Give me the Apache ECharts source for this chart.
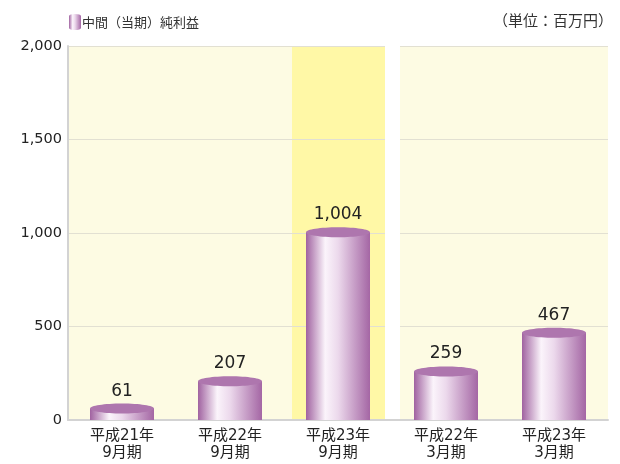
<!DOCTYPE html>
<html>
<head>
<meta charset="utf-8">
<script src="https://cdn.jsdelivr.net/npm/echarts@6/dist/echarts.min.js"></script>
<style>
 html, body { margin: 0; padding: 0; background: #fff; }
 #chart { width: 620px; height: 464px; }
</style>
</head>
<body>
<div id="chart"></div>
<script>
// * Chart data
const categories = ["平成21年\n9月期", "平成22年\n9月期", "平成23年\n9月期", "平成22年\n3月期", "平成23年\n3月期"];
const profits = [61, 207, 1004, 259, 467];
const yTicks = [0, 500, 1000, 1500, 2000];
const seriesName = "中間（当期）純利益";
const unitText = "（単位：百万円）";

const cjkFont = "'Noto Sans CJK JP', 'Noto Sans', sans-serif";
const numFont = "'DejaVu Sans', 'Noto Sans CJK JP', sans-serif";
const textColor = "#222";

// * Cylinder colours
const bodyGradient = {
 type: "linear", x: 0, y: 0, x2: 1, y2: 0,
 colorStops: [
   { offset: 0, color: "#a062a0" },
   { offset: 0.3, color: "#fbf4fb" },
   { offset: 0.5, color: "#ecd9ec" },
   { offset: 1, color: "#a466a4" },
 ],
};
const topColor = "#ae76ae";

/**
* Background bands: pale yellow plot, highlighted current period
*/
function renderBand(params, api) {
 const idx = api.value(0);
 const center = api.coord([idx, 0]);
 const top = api.coord([idx, yTicks[yTicks.length - 1]]);
 const band = api.size([1, 0])[0];
 const children = [
   {
     type: "rect",
     shape: { x: center[0] - band / 2, y: top[1], width: band, height: center[1] - top[1] },
     style: { fill: "#fdfbe3" },
   },
 ];
 if (idx === 2) {
   children.push({
     type: "rect",
     shape: { x: center[0] - band / 2 + 8, y: top[1], width: band - 8, height: center[1] - top[1] },
     style: { fill: "#fff8a6" },
   });
 }
 return { type: "group", children };
}

/**
* White gap between the interim and full-year periods
*/
function renderGap(params, api) {
 const idx = api.value(0);
 if (idx !== 2) return null;
 const center = api.coord([idx, 0]);
 const top = api.coord([idx, yTicks[yTicks.length - 1]]);
 const band = api.size([1, 0])[0];
 return {
   type: "rect",
   shape: { x: center[0] + band / 2 - 7, y: top[1] - 2, width: 15, height: center[1] - top[1] + 1 },
   style: { fill: "#ffffff" },
 };
}

/**
* Cylinder bar with value label
*/
function renderCylinder(params, api) {
 const idx = api.value(0);
 const val = api.value(1);
 const top = api.coord([idx, val]);
 const base = api.coord([idx, 0]);
 const w = 64;
 const ry = 5;
 const x = top[0] - w / 2;
 return {
   type: "group",
   children: [
     {
       type: "rect",
       shape: { x: x, y: top[1], width: w, height: base[1] - top[1] },
       style: { fill: bodyGradient },
     },
     {
       type: "ellipse",
       shape: { cx: top[0], cy: top[1], rx: w / 2, ry: ry },
       style: { fill: topColor },
     },
     {
       type: "text",
       x: top[0],
       y: top[1] - ry - 4,
       style: {
         text: val.toLocaleString("en-US"),
         fill: textColor,
         font: "17px " + numFont,
         align: "center",
         verticalAlign: "bottom",
       },
     },
   ],
 };
}

const dom = document.getElementById("chart");
const myChart = echarts.init(dom);
const indexData = categories.map((c, i) => [i]);

const option = {
 animation: false,
 textStyle: { fontFamily: cjkFont },
 title: {
   text: unitText,
   right: 2,
   top: 8,
   textStyle: { fontSize: 15, fontWeight: "normal", color: "#333", fontFamily: cjkFont },
 },
 legend: {
   data: [seriesName],
   left: 64,
   top: 9,
   icon: "path://M0,2 A6,2 0 0 1 12,2 L12,14 A6,2 0 0 1 0,14 Z",
   itemWidth: 12,
   itemHeight: 16,
   itemGap: 4,
   symbolKeepAspect: false,
   itemStyle: { color: bodyGradient },
   textStyle: { fontSize: 13, color: "#333", fontFamily: cjkFont, padding: [0, 0, 0, -4] },
 },
 grid: {
   left: 68,
   right: 12,
   top: 46,
   bottom: 44,
 },
 xAxis: {
   type: "category",
   data: categories,
   axisTick: { show: false },
   axisLine: { lineStyle: { color: "#d3d3d3", width: 2 } },
   axisLabel: { color: textColor, fontSize: 15, lineHeight: 17, margin: 8, fontFamily: numFont },
 },
 yAxis: {
   type: "value",
   min: 0,
   max: 2000,
   interval: 500,
   axisLine: { show: true, lineStyle: { color: "#d3d3d3", width: 2 } },
   axisTick: { show: false },
   splitLine: { lineStyle: { color: "#e2e0d2", width: 1 } },
   axisLabel: {
     color: textColor,
     fontSize: 14.5,
     margin: 6,
     fontFamily: numFont,
     formatter: (v) => v.toLocaleString("en-US"),
   },
 },
 series: [
   {
     name: "bg",
     type: "custom",
     z: -1,
     silent: true,
     renderItem: renderBand,
     data: indexData,
   },
   {
     name: "gap",
     type: "custom",
     z: 1,
     silent: true,
     renderItem: renderGap,
     data: indexData,
   },
   {
     name: seriesName,
     type: "custom",
     z: 3,
     itemStyle: { color: bodyGradient },
     renderItem: renderCylinder,
     encode: { x: 0, y: 1 },
     data: profits.map((v, i) => [i, v]),
   },
 ],
};

myChart.setOption(option);
</script>
</body>
</html>
